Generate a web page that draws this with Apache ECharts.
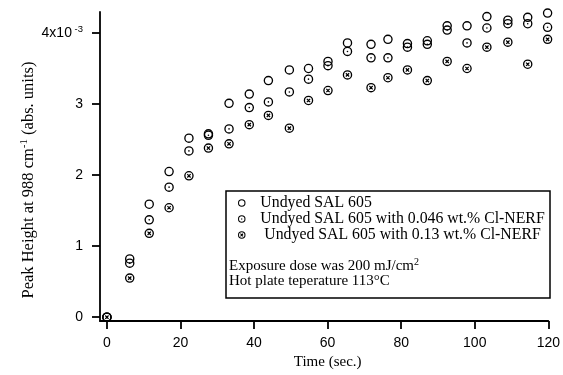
<!DOCTYPE html>
<html>
<head>
<meta charset="utf-8">
<script src="https://cdn.jsdelivr.net/npm/echarts@6/dist/echarts.min.js"></script>
<style>
html,body{margin:0;padding:0;background:#fff;}
#chart{width:563px;height:375px;}
</style>
</head>
<body>
<div id="chart"></div>
<script>
// Time (sec.)
const times = [0, 6.2, 11.5, 16.9, 22.3, 27.6, 33.2, 38.7, 43.9, 49.6, 54.8, 60.1, 65.4, 71.8, 76.4, 81.7, 87.1, 92.5, 97.9, 103.3, 109.0, 114.4, 119.8];
// Peak height (x10^-3 abs. units)
const undyed = [0, 0.82, 1.59, 2.05, 2.52, 2.58, 3.01, 3.14, 3.33, 3.48, 3.50, 3.60, 3.86, 3.84, 3.91, 3.85, 3.89, 4.10, 4.10, 4.23, 4.18, 4.22, 4.28];
const nerf046 = [0, 0.76, 1.37, 1.83, 2.34, 2.56, 2.65, 2.95, 3.03, 3.17, 3.35, 3.54, 3.74, 3.65, 3.65, 3.80, 3.84, 4.04, 3.86, 4.07, 4.13, 4.13, 4.08];
const nerf13 = [0, 0.55, 1.18, 1.54, 1.99, 2.38, 2.44, 2.71, 2.84, 2.66, 3.05, 3.19, 3.41, 3.23, 3.37, 3.48, 3.33, 3.60, 3.50, 3.80, 3.87, 3.56, 3.91];

const seriesNames = ['Undyed SAL 605', 'Undyed SAL 605 with 0.046 wt.% Cl-NERF', ' Undyed SAL 605 with 0.13 wt.% Cl-NERF'];
const xTicks = [0, 20, 40, 60, 80, 100, 120];
const yTicks = [0, 1, 2, 3, 4];
const noteLines = ['{a|Exposure dose was 200 mJ/cm}{s|2}', '{a|Hot plate teperature 113°C}'];

const RING = 'M0,-10A10,10,0,1,1,0,10A10,10,0,1,1,0,-10ZM0,-7.2A7.2,7.2,0,1,0,0,7.2A7.2,7.2,0,1,0,0,-7.2Z';
const DOT = 'M0,-1.7A1.7,1.7,0,1,1,0,1.7A1.7,1.7,0,1,1,0,-1.7Z';
const XMARK = 'M-2.6,-4.4L4.4,2.6L2.6,4.4L-4.4,-2.6ZM-4.4,2.6L2.6,-4.4L4.4,-2.6L-2.6,4.4Z';
const symbols = ['path://' + RING, 'path://' + RING + DOT, 'path://' + RING + XMARK];
const seriesData = [undyed, nerf046, nerf13];

const serif = 'Liberation Serif';
const sans = 'Liberation Sans';

const chart = echarts.init(document.getElementById('chart'), null, {renderer: 'canvas'});
chart.setOption({
  animation: false,
  backgroundColor: '#fff',
  grid: {left: 100, right: 9, top: 12, bottom: 49.3, containLabel: false},
  xAxis: {
    type: 'value', min: -1.88, max: 120,
    name: 'Time (sec.)', nameLocation: 'middle', nameGap: 29,
    nameTextStyle: {fontFamily: serif, fontSize: 15, color: '#000', padding: [0, 0, 0, 7]},
    axisLine: {show: true, onZero: false, lineStyle: {color: '#000', width: 1.8}},
    axisTick: {show: true, inside: false, length: 8, lineStyle: {color: '#000', width: 1.8}, customValues: xTicks},
    axisLabel: {show: true, margin: 15, fontFamily: sans, fontSize: 14, color: '#000', customValues: xTicks},
    splitLine: {show: false}
  },
  yAxis: {
    type: 'value', min: -0.055, max: 4.295,
    name: '{a|Peak Height at 988 cm}{s|-1}{a| (abs. units)}', nameLocation: 'middle', nameGap: 62, nameRotate: 90,
    nameMoveOverlap: false,
    nameTextStyle: {
      color: '#000', padding: [0, 27, 0, 0],
      rich: {
        a: {fontFamily: serif, fontSize: 16.5, color: '#000', lineHeight: 19},
        s: {fontFamily: serif, fontSize: 11, color: '#000', verticalAlign: 'top', lineHeight: 19}
      }
    },
    axisLine: {show: true, onZero: false, lineStyle: {color: '#000', width: 1.8}},
    axisTick: {show: true, inside: false, length: 8, lineStyle: {color: '#000', width: 1.8}, customValues: yTicks},
    axisLabel: {
      show: true, margin: 17, fontFamily: sans, fontSize: 14, color: '#000', customValues: yTicks,
      formatter: function (v) { return v === 4 ? '{a|4x10}{s| -3}' : '{a|' + v + '}'; },
      rich: {
        a: {fontFamily: sans, fontSize: 14, color: '#000', lineHeight: 17},
        s: {fontFamily: sans, fontSize: 9.5, color: '#000', verticalAlign: 'top', lineHeight: 17}
      }
    },
    splitLine: {show: false}
  },
  legend: {
    show: true, orient: 'vertical', left: 238, top: 195, padding: 0,
    itemWidth: 27.2, itemHeight: 7.5, itemGap: 0,
    symbolKeepAspect: true,
    textStyle: {fontFamily: serif, fontSize: 15.8, color: '#000', lineHeight: 15},
    data: seriesNames.map(function (n, i) { return {name: n, icon: symbols[i], itemStyle: {color: '#000'}}; })
  },
  graphic: [
    {type: 'rect', z: 1, shape: {x: 226, y: 191, width: 324, height: 107},
     style: {fill: '#fff', stroke: '#000', lineWidth: 1.5}},
    {type: 'text', z: 5, left: 229, top: 257.5, style: {text: noteLines[0], rich: {
      a: {fontFamily: serif, fontSize: 15, fill: '#000', lineHeight: 17},
      s: {fontFamily: serif, fontSize: 10, fill: '#000', verticalAlign: 'top', lineHeight: 17}}}},
    {type: 'text', z: 5, left: 229, top: 274, style: {text: noteLines[1], rich: {
      a: {fontFamily: serif, fontSize: 15, fill: '#000', lineHeight: 17}}}}
  ],
  series: seriesData.map(function (vals, i) {
    return {
      type: 'scatter', name: seriesNames[i], symbol: symbols[i], symbolSize: 9.5,
      itemStyle: {color: '#000', opacity: 1}, z: 3 + i,
      data: times.map(function (t, j) { return [t, vals[j]]; })
    };
  })
});
</script>
</body>
</html>
